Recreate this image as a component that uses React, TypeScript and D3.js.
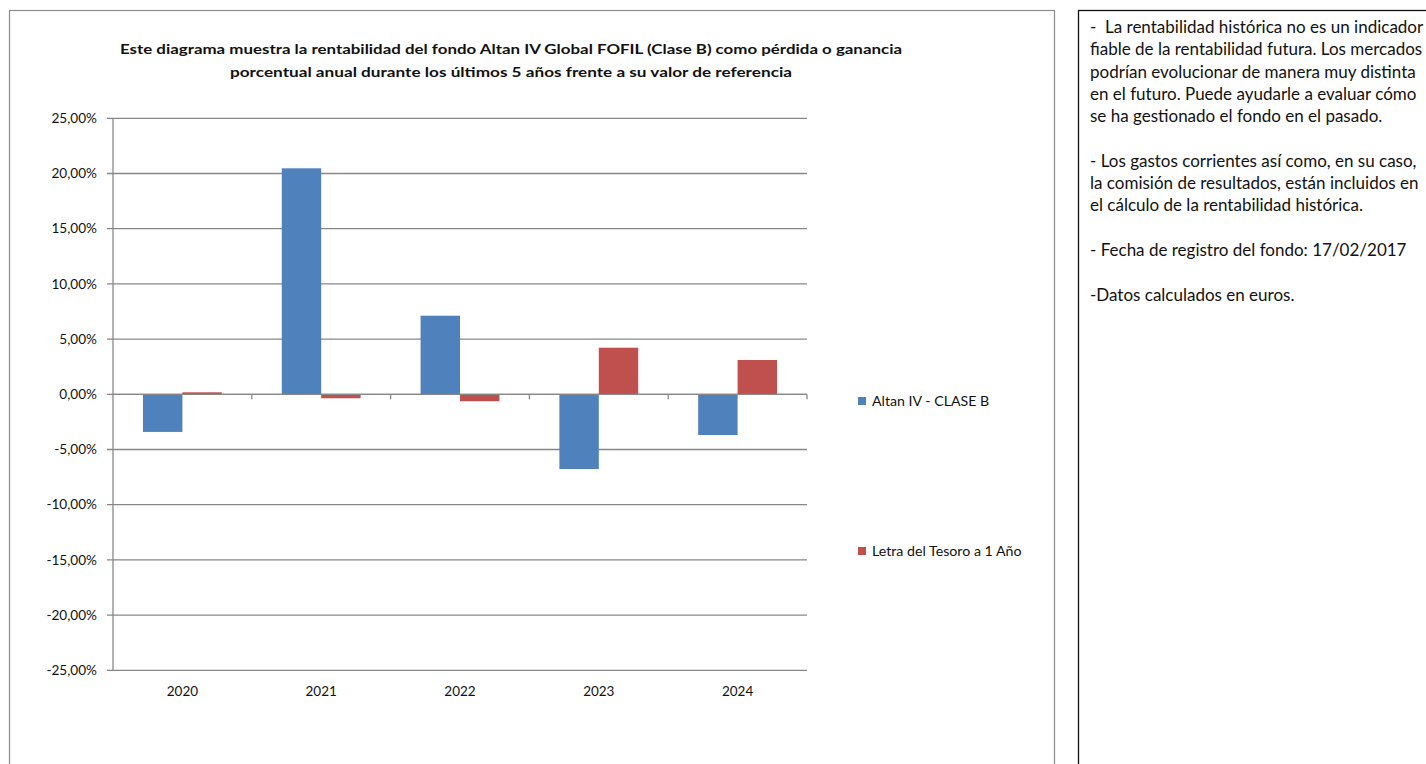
import React from 'react';
import * as d3 from 'd3';

const years = ['2020', '2021', '2022', '2023', '2024'];
const fundValues = [-3.41, 20.47, 7.12, -6.77, -3.69];
const benchmarkValues = [0.18, -0.36, -0.63, 4.22, 3.11];
const seriesNames = ['Altan IV - CLASE B', 'Letra del Tesoro a 1 Año'];
const seriesColors = ['#4F81BD', '#C0504D'];
const yTicks = [25, 20, 15, 10, 5, 0, -5, -10, -15, -20, -25];

const titleLines = [
  'Este diagrama muestra la rentabilidad del fondo Altan IV Global FOFIL (Clase B) como pérdida o ganancia',
  'porcentual anual durante los últimos 5 años frente a su valor de referencia',
];

const noteLines = [
  '-  La rentabilidad histórica no es un indicador',
  'fiable de la rentabilidad futura. Los mercados',
  'podrían evolucionar de manera muy distinta',
  'en el futuro. Puede ayudarle a evaluar cómo',
  'se ha gestionado el fondo en el pasado.',
  '',
  '- Los gastos corrientes así como, en su caso,',
  'la comisión de resultados, están incluidos en',
  'el cálculo de la rentabilidad histórica.',
  '',
  '- Fecha de registro del fondo: 17/02/2017',
  '',
  '-Datos calculados en euros.',
];

const FONT = 'Lato, "Open Sans", sans-serif';

// excel style: comma decimal, plain hyphen for negatives
const fmtPct = (v: number) => v.toFixed(2).replace('.', ',') + '%';

export default function App() {
  const W = 1426;
  const H = 764;
  const plot = { left: 113, right: 807, top: 118.3, bottom: 670.3 };

  const y = d3.scaleLinear().domain([-25, 25]).range([plot.bottom, plot.top]);
  const x = d3.scaleBand<string>().domain(years).range([plot.left, plot.right]);
  const step = x.bandwidth();
  const groupW = step * 0.568;
  const xs = d3
    .scaleBand<number>()
    .domain([0, 1])
    .range([(step - groupW) / 2, (step + groupW) / 2]);

  const series = [fundValues, benchmarkValues];
  const y0 = y(0);

  return (
    <svg
      width={W}
      height={H}
      style={{ position: 'absolute', left: 0, top: 0, background: '#fff' }}
      fontFamily={FONT}
    >
      {/* chart frame */}
      <rect x={9.5} y={10.5} width={1045} height={800} fill="#fff" stroke="#8c8c8c" strokeWidth={1.2} />
      {/* notes frame */}
      <rect x={1078.5} y={10.5} width={400} height={800} fill="#fff" stroke="#111" strokeWidth={1.3} />

      {titleLines.map((t, i) => (
        <text
          key={i}
          x={511}
          y={54 + i * 23}
          textAnchor="middle"
          fontSize={14}
          fontWeight="bold"
          fill="#111"
          textLength={i === 0 ? 782 : 562}
          lengthAdjust="spacingAndGlyphs"
        >
          {t}
        </text>
      ))}

      {/* gridlines + y labels */}
      {yTicks.map((v) => (
        <g key={v}>
          <line x1={plot.left - 6} x2={plot.right} y1={y(v)} y2={y(v)} stroke="#878787" strokeWidth={1.3} />
          <text x={97} y={y(v)} dy="0.35em" textAnchor="end" fontSize={13.6} fill="#111">
            {fmtPct(v)}
          </text>
        </g>
      ))}
      <line x1={plot.left} x2={plot.left} y1={plot.top} y2={plot.bottom} stroke="#878787" strokeWidth={1.3} />

      {/* bars */}
      {years.map((yr, i) => (
        <g key={yr} transform={`translate(${x(yr)},0)`}>
          {series.map((vals, s) => {
            const v = vals[i];
            const top = Math.min(y(v), y0);
            const h = Math.abs(y(v) - y0);
            return (
              <rect
                key={s}
                x={xs(s)}
                y={top}
                width={xs.bandwidth()}
                height={h}
                fill={seriesColors[s]}
              />
            );
          })}
        </g>
      ))}

      {/* zero axis with category ticks */}
      <line x1={plot.left} x2={plot.right} y1={y0} y2={y0} stroke="#878787" strokeWidth={1.3} />
      {years.map((yr, i) => {
        const xx = plot.left + step * (i + 1);
        return <line key={yr} x1={xx} x2={xx} y1={y0} y2={y0 + 5} stroke="#878787" strokeWidth={1.3} />;
      })}

      {/* x labels */}
      {years.map((yr) => (
        <text key={yr} x={(x(yr) as number) + step / 2} y={691} dy="0.35em" textAnchor="middle" fontSize={13.5} fill="#111">
          {yr}
        </text>
      ))}

      {/* legend */}
      {seriesNames.map((n, i) => (
        <g key={n} transform={`translate(858,${401 + i * 150})`}>
          <rect x={0} y={-4} width={8} height={8} fill={seriesColors[i]} />
          <text x={14} y={0} dy="0.35em" fontSize={14.2} fill="#111">
            {n}
          </text>
        </g>
      ))}

      {/* notes */}
      {noteLines.map((t, i) => (
        <text
          key={i}
          x={1090}
          y={27 + i * 22.3}
          dy="0.35em"
          fontSize={17}
          fill="#111"
          style={{ whiteSpace: 'pre' }}
        >
          {t}
        </text>
      ))}
    </svg>
  );
}
